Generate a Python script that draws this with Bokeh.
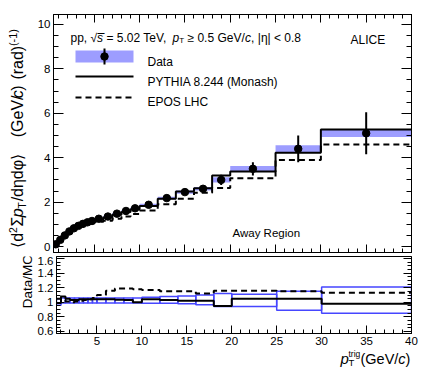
import numpy as np
from math import pi
from bokeh.plotting import figure
from bokeh.layouts import column, row
from bokeh.models import (Range1d, LinearAxis, SingleIntervalTicker, Label, CustomJSTickFormatter, Grid,
                          CustomLabelingPolicy)
from bokeh.embed import file_html
from bokeh.resources import INLINE

# ---------------- data ----------------
bin_edges = [0.5, 1, 1.5, 2, 2.5, 3, 3.5, 4, 4.5, 5, 6, 7, 8, 9, 10, 12, 14, 16, 18, 20, 25, 30, 40]
data_val = [0.10, 0.30, 0.50, 0.68, 0.82, 0.93, 1.02, 1.09, 1.15, 1.25, 1.35, 1.48, 1.60, 1.72,
            1.88, 2.18, 2.45, 2.60, 3.00, 3.50, 4.40, 5.10]
data_stat = [0.005, 0.005, 0.005, 0.005, 0.005, 0.005, 0.005, 0.01, 0.01, 0.01, 0.01, 0.01, 0.015, 0.02,
             0.03, 0.05, 0.07, 0.12, 0.23, 0.30, 0.60, 0.95]
data_sys = [0.02, 0.02, 0.02, 0.02, 0.025, 0.025, 0.03, 0.03, 0.03, 0.035, 0.04, 0.04, 0.045, 0.05,
            0.05, 0.06, 0.07, 0.08, 0.12, 0.13, 0.16, 0.17]
pythia_val = [0.10, 0.28, 0.48, 0.66, 0.80, 0.90, 0.99, 1.06, 1.12, 1.21, 1.31, 1.43, 1.55, 1.68,
              1.82, 2.15, 2.48, 2.62, 3.20, 3.38, 4.22, 5.27]
epos_val = [0.09, 0.29, 0.50, 0.68, 0.80, 0.90, 0.98, 1.04, 1.07, 1.12, 1.16, 1.25, 1.35, 1.46,
            1.62, 1.90, 2.15, 2.42, 2.63, 3.07, 3.90, 4.60]
ratio_pythia = [0.99, 1.08, 1.05, 1.03, 1.03, 1.04, 1.04, 1.04, 1.04, 1.04, 1.04, 1.035, 1.03, 1.00,
                1.04, 1.03, 1.02, 1.02, 0.95, 1.05, 1.05, 0.98]
ratio_epos = [1.05, 1.03, 1.01, 1.00, 1.01, 1.02, 1.03, 1.04, 1.06, 1.10, 1.16, 1.19, 1.19, 1.18,
              1.17, 1.15, 1.15, 1.12, 1.16, 1.16, 1.15, 1.13]
ratio_unc_lo = [0.96, 0.99, 0.99, 0.99, 0.99, 0.99, 0.99, 0.99, 0.99, 0.99, 0.99, 0.99, 0.99, 0.99,
                0.985, 0.985, 0.98, 0.965, 0.94, 0.94, 0.89, 0.85]
ratio_unc_hi = [1.05, 1.06, 1.06, 1.06, 1.06, 1.06, 1.06, 1.06, 1.06, 1.06, 1.06, 1.06, 1.06, 1.06,
                1.07, 1.08, 1.085, 1.10, 1.12, 1.11, 1.15, 1.21]
x_ticks_major = 5
y_top_ticks_major = 2
y_ratio_ticks_major = 0.2

edges = np.array(bin_edges, dtype=float)
lefts, rights = edges[:-1], edges[1:]
centers = (lefts + rights) / 2
dv = np.array(data_val); ds = np.array(data_stat); dsy = np.array(data_sys)

FONT = "Liberation Sans"
BAND = "#9d9dff"
BOXC = "#4646ff"

# layout (page pixels; page margin is 0)
X0, X1 = 0.5, 40.0
LEFTW = 34          # width of the left title strips
BL = 19             # left border of the panels
FL, FR = LEFTW + BL, 411
BR = 12
PW = BL + (FR - FL) + BR
YT0, YT1 = -0.27, 10.45
FT_T, FT_B = 14, 252
YR0, YR1 = 0.57, 1.63
FB_T, FB_B = 256, 333
QB = 15
TOP_H = FB_T
BOT_H = (FB_B - FB_T) + QB
XT_T = FB_B + QB
XT_H = 20
XT_W = 425


def tx(px):
    return X0 + (px - FL) * (X1 - X0) / (FR - FL)


def tyt(py):
    return YT1 - (py - FT_T) * (YT1 - YT0) / (FT_B - FT_T)


def tyb(py):
    return YR1 - (py - FB_T) * (YR1 - YR0) / (FB_B - FB_T)


def ident(v):
    return v


hide_policy = CustomLabelingPolicy(code="""
try { for (const i of Array.from(indices.ones())) { indices.unset(i) } } catch (e) {}
return indices
""")


def style_axis(ax, ticker, labels, major_in, minor_in, standoff=3):
    ax.ticker = ticker
    ax.major_tick_in = major_in
    ax.major_tick_out = 0
    ax.minor_tick_in = minor_in
    ax.minor_tick_out = 0
    ax.axis_line_color = "black"
    ax.major_tick_line_color = "black"
    ax.minor_tick_line_color = "black"
    ax.axis_label = None
    if labels:
        ax.major_label_text_font = FONT
        ax.major_label_text_font_size = "11.5px"
        ax.major_label_text_color = "black"
        ax.major_label_standoff = standoff
    else:
        ax.major_label_text_font_size = "0px"
        ax.major_label_standoff = 0
        ax.major_label_policy = hide_policy
    return ax


def add_label(fig, px, py, text, size, xfun, yfun, style="normal", angle=0.0, align="left",
              baseline="alphabetic"):
    fig.add_layout(Label(x=xfun(px), y=yfun(py), text=text, text_font=FONT, text_font_size=size,
                         text_font_style=style, text_color="black", text_baseline=baseline,
                         text_align=align, angle=angle))


def blank_fig(w, h, xr, yr):
    f = figure(width=w, height=h, x_range=xr, y_range=yr, output_backend="svg", title=None,
               toolbar_location=None, x_axis_location=None, y_axis_location=None,
               min_border=0, min_border_left=0, min_border_right=0, min_border_top=0, min_border_bottom=0,
               background_fill_color="white", border_fill_color="white", outline_line_color=None)
    f.center = [c for c in f.center if not isinstance(c, Grid)]
    return f


# ---------------- top panel ----------------
p = figure(width=PW, height=TOP_H, x_range=Range1d(X0, X1), y_range=Range1d(YT0, YT1), title=None,
           output_backend="svg", toolbar_location=None, x_axis_location=None, y_axis_location=None,
           min_border_left=BL, min_border_right=BR, min_border_top=FT_T, min_border_bottom=FB_T - FT_B,
           background_fill_color="white", border_fill_color="white")
p.center = [c for c in p.center if not isinstance(c, Grid)]
p.outline_line_color = "black"
p.outline_line_width = 1

p.add_layout(style_axis(LinearAxis(), SingleIntervalTicker(interval=y_top_ticks_major, num_minor_ticks=4), True, 10, 5), "left")
p.add_layout(style_axis(LinearAxis(), SingleIntervalTicker(interval=y_top_ticks_major, num_minor_ticks=4), False, 10, 5), "right")
p.add_layout(style_axis(LinearAxis(), SingleIntervalTicker(interval=x_ticks_major, num_minor_ticks=5), False, 8, 4), "above")
p.add_layout(style_axis(LinearAxis(), SingleIntervalTicker(interval=x_ticks_major, num_minor_ticks=5), False, 8, 4), "below")

p.quad(left=lefts, right=rights, bottom=dv - dsy, top=dv + dsy, fill_color=BAND, line_color=None)
p.step(x=edges, y=list(pythia_val) + [pythia_val[-1]], mode="after", line_color="black", line_width=2)
p.step(x=edges, y=list(epos_val) + [epos_val[-1]], mode="after", line_color="black", line_width=2,
       line_dash="6 4")
p.segment(x0=centers, y0=dv - ds, x1=centers, y1=dv + ds, line_color="black", line_width=2)
p.scatter(x=centers, y=dv, marker="circle", size=7.5, fill_color="black", line_color="black")

# legend
p.quad(left=[tx(75)], right=[tx(133)], bottom=[tyt(62)], top=[tyt(50)], fill_color=BAND, line_color=None)
p.segment(x0=[tx(104)], y0=[tyt(48)], x1=[tx(104)], y1=[tyt(64)], line_color="black", line_width=2)
p.scatter(x=[tx(104)], y=[tyt(56)], marker="circle", size=7.5, fill_color="black", line_color="black")
p.line(x=[tx(75), tx(133)], y=[tyt(76), tyt(76)], line_color="black", line_width=2)
p.line(x=[tx(75), tx(133)], y=[tyt(97), tyt(97)], line_color="black", line_width=2, line_dash="6 4")
add_label(p, 147, 61, "Data", "12px", tx, tyt)
add_label(p, 147, 81, "PYTHIA 8.244 (Monash)", "12px", tx, tyt)
add_label(p, 147, 101, "EPOS LHC", "12px", tx, tyt)

# header
add_label(p, 70, 37, "pp, \u221a", "12px", tx, tyt)
add_label(p, 96.6, 37, "s\u0305", "12px", tx, tyt, style="italic")
add_label(p, 106, 37, "= 5.02 TeV,", "12px", tx, tyt)
add_label(p, 172, 37, "p", "12px", tx, tyt, style="italic")
add_label(p, 178.7, 40, "T", "8px", tx, tyt)
add_label(p, 187, 37, "\u2265 0.5 GeV/", "12px", tx, tyt)
add_label(p, 244.6, 37, "c", "12px", tx, tyt, style="italic")
add_label(p, 250.6, 37, ", |\u03b7| < 0.8", "12px", tx, tyt)
add_label(p, 350, 39, "ALICE", "12px", tx, tyt)
add_label(p, 232, 232, "Away Region", "11.5px", tx, tyt)

# ---------------- ratio panel ----------------
q = figure(width=PW, height=BOT_H, x_range=p.x_range, y_range=Range1d(YR0, YR1), title=None,
           output_backend="svg", toolbar_location=None, x_axis_location=None, y_axis_location=None,
           min_border_left=BL, min_border_right=BR, min_border_top=0, min_border_bottom=QB,
           background_fill_color="white", border_fill_color="white")
q.center = [c for c in q.center if not isinstance(c, Grid)]
q.outline_line_color = "black"
q.outline_line_width = 1

ly = style_axis(LinearAxis(), SingleIntervalTicker(interval=y_ratio_ticks_major, num_minor_ticks=4), True, 8, 4)
ly.formatter = CustomJSTickFormatter(code="return (Math.round(tick*10)/10).toString();")
q.add_layout(ly, "left")
q.add_layout(style_axis(LinearAxis(), SingleIntervalTicker(interval=y_ratio_ticks_major, num_minor_ticks=4), False, 8, 4), "right")
q.add_layout(style_axis(LinearAxis(), SingleIntervalTicker(interval=x_ticks_major, num_minor_ticks=5), True, 8, 4, standoff=3), "below")

q.quad(left=lefts, right=rights, bottom=ratio_unc_lo, top=ratio_unc_hi, fill_alpha=0, line_color=BOXC, line_width=1.5)
q.step(x=edges, y=list(ratio_pythia) + [ratio_pythia[-1]], mode="after", line_color="black", line_width=2)
q.step(x=edges, y=list(ratio_epos) + [ratio_epos[-1]], mode="after", line_color="black", line_width=2,
       line_dash="6 4")

# ---------------- title strips (page-pixel coordinates) ----------------
R = pi / 2
M = "middle"
XM, XS, XB = 17, 12, 21   # main, superscript, subscript centre lines
yt = blank_fig(LEFTW, TOP_H, Range1d(0, LEFTW), Range1d(TOP_H, 0))
add_label(yt, XM, 251, "\u27e8d", "16px", ident, ident, angle=R, baseline=M)
add_label(yt, XS, 235, "2", "10.5px", ident, ident, angle=R, baseline=M)
add_label(yt, XM, 228, "\u03a3", "16px", ident, ident, angle=R, baseline=M)
add_label(yt, XM, 218, "p", "16px", ident, ident, style="italic", angle=R, baseline=M)
add_label(yt, XB, 209, "T", "10.5px", ident, ident, angle=R, baseline=M)
add_label(yt, XM, 201, "/d\u03b7d\u03c6\u27e9", "16px", ident, ident, angle=R, baseline=M)
add_label(yt, XM, 132, "(GeV/", "16px", ident, ident, angle=R, baseline=M)
add_label(yt, XM, 90, "c", "16px", ident, ident, style="italic", angle=R, baseline=M)
add_label(yt, XM, 82, ")", "16px", ident, ident, angle=R, baseline=M)
add_label(yt, XM, 70, "(rad)", "16px", ident, ident, angle=R, baseline=M)
add_label(yt, XS, 34, "(-1)", "11px", ident, ident, angle=R, baseline=M)

yt2 = blank_fig(LEFTW, BOT_H, Range1d(0, LEFTW), Range1d(FB_T + BOT_H, FB_T))
add_label(yt2, 27, 286, "Data/MC", "13.5px", ident, ident, angle=R, align="center", baseline=M)

xt = blank_fig(XT_W, XT_H, Range1d(0, XT_W), Range1d(XT_T + XT_H, XT_T))
add_label(xt, 340, 358, "p", "15px", ident, ident, style="italic")
add_label(xt, 348, 362, "T", "9.5px", ident, ident)
add_label(xt, 348, 353, "trig", "8.5px", ident, ident)
add_label(xt, 360, 358, "(GeV/", "14.5px", ident, ident)
add_label(xt, 397.8, 358, "c", "14.5px", ident, ident, style="italic")
add_label(xt, 405, 358, ")", "14.5px", ident, ident)

layout = column(row(yt, p, spacing=0), row(yt2, q, spacing=0), xt, spacing=0)
open("out.html", "w").write(file_html(layout, INLINE))
